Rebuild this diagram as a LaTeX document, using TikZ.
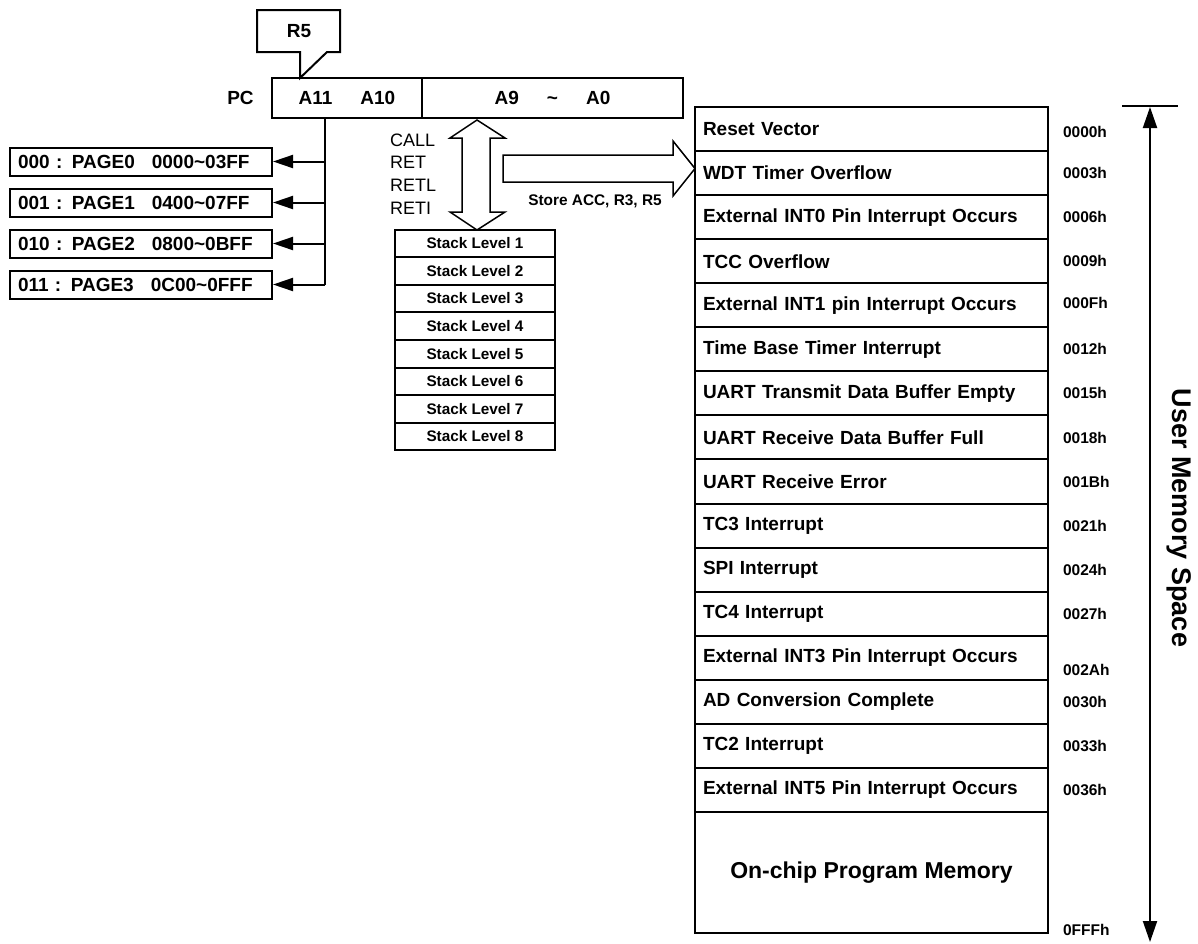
\documentclass[tikz,border=0pt]{standalone}
\usepackage{fontspec}
\setmainfont{Liberation Sans}
\usetikzlibrary{arrows.meta,positioning}

\begin{document}
\begin{tikzpicture}[x=1pt, y=-1pt, line width=2pt, font=\bfseries,
  reg/.style={draw, minimum height=40pt, inner sep=0pt, font=\bfseries\fontsize{19}{22}\selectfont},
  page/.style={draw, minimum height=28pt, inner xsep=8pt, inner ysep=0pt, text width=246pt, align=left, font=\bfseries\fontsize{19}{20}\selectfont},
  stk/.style={draw, minimum width=160pt, minimum height=27.6pt, inner sep=0pt, font=\bfseries\fontsize{15.3}{17}\selectfont},
  vec/.style={draw, minimum height=44.06pt, inner xsep=8pt, inner ysep=0pt, text width=337pt, align=left, font=\bfseries\fontsize{19}{22}\selectfont},
  addr/.style={anchor=west, inner sep=0pt, font=\bfseries\fontsize{15.5}{17}\selectfont},
  tip/.style={-{Triangle[length=20pt,width=13pt]}},
  hollow/.style={draw, line width=1.5pt}]

  \useasboundingbox (0,0) rectangle (1198,943);

  % program counter
  \node[reg, minimum width=150pt] (pcHi) at (347,98) {A11\hspace{28pt}A10};
  \node[reg, minimum width=261pt] (pcLo) at (552.5,98) {A9\hspace{28pt}\textasciitilde\hspace{28pt}A0};
  \node[font=\bfseries\fontsize{19}{22}\selectfont, left=13pt of pcHi] (pc) {PC};

  % R5 callout
  \draw (257,10) -- (340,10) -- (340,52) -- (327,52) -- (300,78) -- (300,52) -- (257,52) -- cycle;
  \node[font=\bfseries\fontsize{19}{22}\selectfont] (r5) at (299,31) {R5};

  % pages
  \foreach \bits/\num/\range [count=\i from 0] in {000/0/0000\textasciitilde 03FF, 001/1/0400\textasciitilde 07FF,
      010/2/0800\textasciitilde 0BFF, 011/3/0C00\textasciitilde 0FFF}
    \node[page] (pg\i) at (141,{161.5+41*\i}) {\bits{} : PAGE\num\hspace{17pt}\range};

  \draw (pcHi.south west) ++(54,0) coordinate (br) -- (br |- pg3);
  \foreach \i in {0,...,3}
    \draw[tip] (br |- pg\i) -- (pg\i.east);

  % stack
  \foreach \i in {1,...,8}
    \node[stk] (s\i) at (475,{229.5+27.6*(\i-0.5)}) {Stack Level \i};

  \draw[hollow] (477,120) -- (505,138) -- (490,138) -- (490,212) -- (505,212) -- (477,230)
    -- (450,212) -- (462,212) -- (462,138) -- (450,138) -- cycle;
  \node[anchor=west, align=left, inner sep=0pt, font=\mdseries\fontsize{18}{22.7}\selectfont] (ops) at (389,174)
    {CALL\\RET\\RETL\\RETI};

  \draw[hollow] (503,155) -- (673,155) -- (673,141) -- (695,168.5) -- (673,196) -- (673,182) -- (503,182) -- cycle;
  \node[font=\bfseries\fontsize{15.4}{17}\selectfont] (store) at (595,201) {Store ACC, R3, R5};

  % interrupt vectors
  \foreach \txt/\adr/\dy [count=\i from 0] in {
      Reset Vector/0000h/3, WDT Timer Overflow/0003h/0, External INT0 Pin Interrupt Occurs/0006h/0,
      TCC Overflow/0009h/0, External INT1 pin Interrupt Occurs/000Fh/-2, Time Base Timer Interrupt/0012h/0,
      UART Transmit Data Buffer Empty/0015h/0, UART Receive Data Buffer Full/0018h/0,
      UART Receive Error/001Bh/0, TC3 Interrupt/0021h/0, SPI Interrupt/0024h/0, TC4 Interrupt/0027h/0,
      External INT3 Pin Interrupt Occurs/002Ah/12, AD Conversion Complete/0030h/0,
      TC2 Interrupt/0033h/0, External INT5 Pin Interrupt Occurs/0036h/0} {
    \node[vec] (v\i) at (871.5,{129.03+44.06*\i}) {\txt};
    \node[addr] (a\i) at (1062,{129.03+44.06*\i+\dy}) {\adr};
  }
  \node[draw, minimum width=353pt, minimum height=121pt, font=\bfseries\fontsize{23}{26}\selectfont] (prog)
    at (871.5,872.5) {On-chip Program Memory};
  \node[addr] (aend) at (1062,930) {0FFFh};

  % user memory space
  \draw (1122,106) -- (1178,106);
  \draw[{Triangle[length=21pt,width=14pt]}-{Triangle[length=21pt,width=14pt]}] (1150,107) -- (1150,942);
  \node[rotate=-90, font=\bfseries\fontsize{27}{30}\selectfont] (ums) at (1179,518) {User Memory Space};

\end{tikzpicture}
\end{document}
